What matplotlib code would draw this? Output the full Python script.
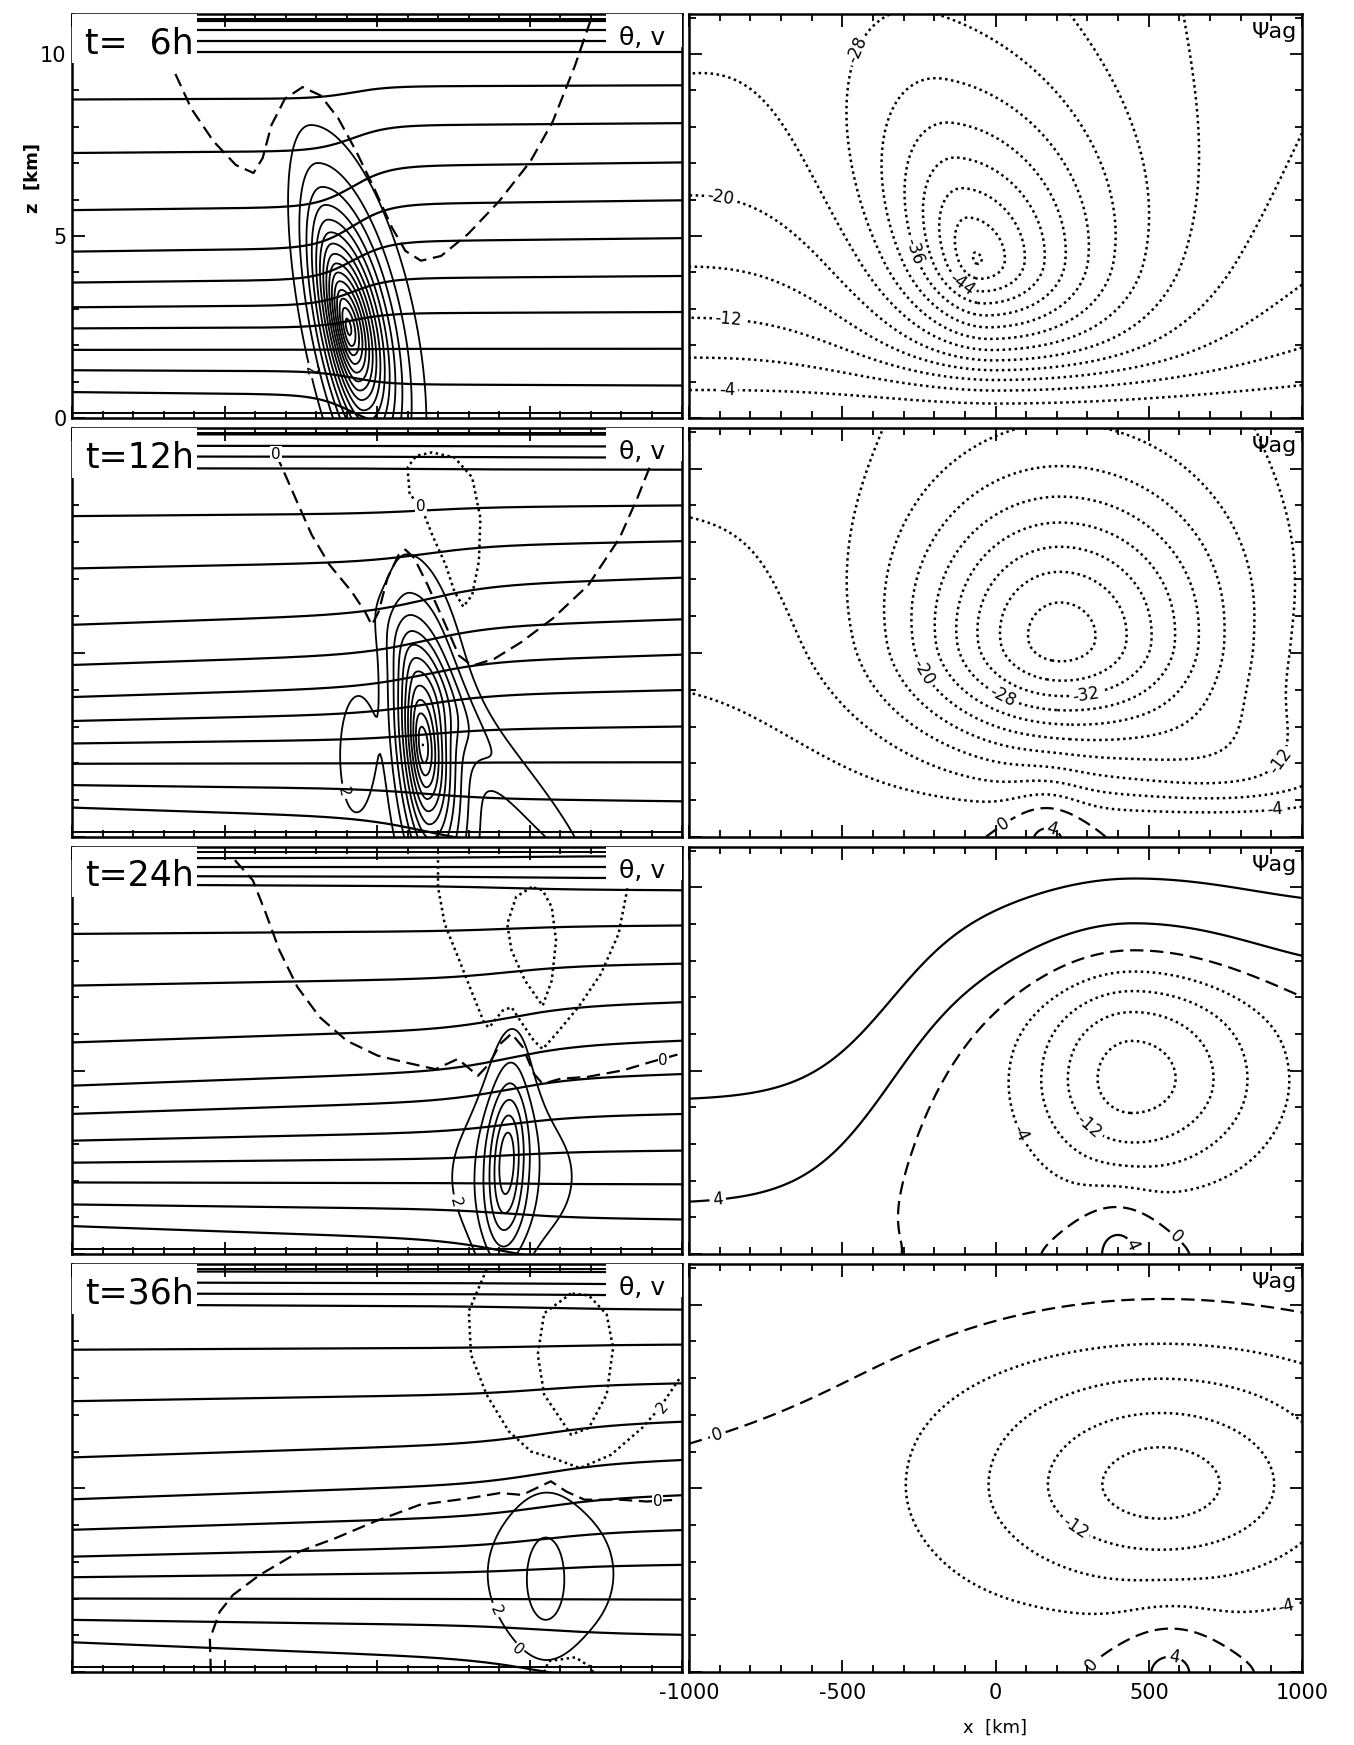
import numpy as np
import matplotlib.pyplot as plt
from matplotlib.patches import Rectangle
from matplotlib.ticker import MultipleLocator

plt.rcParams["font.family"] = ["DejaVu Sans"]
plt.rcParams["axes.unicode_minus"] = False

Z_TOP = 11.1
TIME_LABELS = ["t=  6h", "t=12h", "t=24h", "t=36h"]

# isentrope heights [km] at the western / eastern boundary, one list per time
THETA_WEST = [
    [0.71, 1.31, 1.87, 2.46, 3.04, 3.72, 4.57, 5.71, 7.28, 8.75, 10.06, 10.36, 10.65, 10.92],
    [0.80, 1.41, 1.99, 2.54, 3.15, 3.80, 4.67, 5.76, 7.29, 8.71, 10.01, 10.33, 10.62, 10.93],
    [0.76, 1.35, 1.95, 2.49, 3.09, 3.82, 4.59, 5.77, 7.32, 8.73, 10.08, 10.31, 10.55, 10.79],
    [0.81, 1.42, 2.00, 2.58, 3.14, 3.87, 4.70, 5.84, 7.37, 8.77, 10.00, 10.30, 10.60, 10.90],
]
THETA_EAST = [
    [-0.40, 0.89, 1.90, 2.91, 3.90, 4.94, 5.98, 7.02, 8.10, 9.14, 10.06, 10.36, 10.65, 10.92],
    [-0.40, 0.97, 2.03, 3.00, 3.99, 4.95, 5.91, 7.04, 8.03, 9.00, 9.97, 10.30, 10.60, 10.92],
    [-0.40, 0.94, 1.90, 2.82, 3.82, 4.91, 5.82, 6.87, 7.92, 8.96, 9.92, 10.25, 10.55, 10.85],
    [-0.40, 1.01, 1.97, 2.92, 3.87, 4.82, 5.78, 6.82, 7.86, 8.91, 9.86, 10.25, 10.55, 10.88],
]
THETA_XC = [-80, 160, 430, 540]
THETA_WIDTH = [60, 110, 110, 120]
THETA_LINEAR = [0.15, 0.45, 0.50, 0.55]

# along-front wind v: (amp, x0, z0, sx_west, sx_east, sz_below, sz_above, tilt, power)
V_BLOBS = [
    [(31, -95, 2.5, 75, 110, 2.7, 2.7, -22, 1.4)],
    [(24, 150, 2.5, 70, 95, 2.8, 2.7, -10, 1.4),
     (3.2, 430, 1.8, 100, 100, 3.6, 3.6, -95, 2.0),
     (2.7, -70, 2.2, 68, 68, 2.0, 2.0, 0, 4.0)],
    [(11, 425, 2.5, 65, 65, 2.4, 2.6, 5, 1.6),
     (3.0, 445, 2.1, 260, 260, 2.3, 2.3, 0, 3.0)],
    [(2.4, 552, 2.5, 85, 85, 1.7, 1.7, 0, 2.0),
     (2.6, 570, 2.67, 320, 320, 2.9, 2.9, 0, 3.0)],
]
V_STEP = [2, 2, 2, 2]
V_LABEL_AT = [[(-219, 1.3)], [(-80, 1.3)], [(250, 1.4)], [(420, 1.8)]]

# v = 0 (dashed) and v < 0 (dotted) isolines
DASHED_X = [
    [-661, -609, -536, -463, -405, -375, -346, -302, -244, -185, -127, -68, -10, 49, 93, 144, 210, 298, 400, 503, 576, 649, 707],
    [-331, -302, -258, -214, -156, -83, -39, -17, 5, 34, 71, 93, 122, 166, 225, 268, 312, 385, 473, 576, 693, 795, 854, 898],
    [-466, -407, -364, -320, -261, -188, -100, 2, 90, 192, 265, 331, 368, 404, 441, 478, 514, 543, 602, 690, 807, 895, 990],
    [-545, -548, -516, -472, -385, -254, -137, -6, 140, 301, 403, 476, 570, 621, 680, 796, 884, 986],
]
DASHED_Z = [
    [9.45, 8.5, 7.6, 6.95, 6.73, 7.14, 8.05, 8.77, 9.09, 8.86, 8.23, 7.32, 6.32, 5.23, 4.59, 4.32, 4.45, 5.05, 5.95, 7.05, 8.14, 9.68, 11.09],
    [10.39, 9.85, 9.02, 8.2, 7.39, 6.66, 6.11, 5.75, 6.11, 7.02, 7.66, 7.8, 7.57, 6.84, 5.75, 4.93, 4.65, 4.84, 5.29, 5.93, 6.84, 8.11, 9.21, 10.12],
    [10.74, 10.19, 9.28, 8.28, 7.28, 6.46, 5.82, 5.41, 5.23, 5.04, 5.32, 4.86, 5.19, 5.73, 6.01, 5.64, 4.92, 4.64, 4.78, 4.83, 5.01, 5.23, 5.45],
    [0.0, 0.9, 1.64, 2.1, 2.64, 3.28, 3.64, 4.1, 4.55, 4.73, 4.87, 4.82, 5.19, 4.91, 4.69, 4.69, 4.64, 4.69],
]
DOTTED_X = [
    [],
    [[100, 107, 144, 181, 225, 254, 283, 312, 334, 339, 312, 254, 181, 129, 100]],
    [[200, 200, 222, 266, 309, 353, 368, 412, 441, 470, 514, 543, 587, 660, 734, 792, 822],
     [507, 456, 427, 441, 485, 543, 573, 587, 573, 543, 507]],
    [[359, 301, 308, 359, 432, 505, 578, 665, 767, 869, 927, 993],
     [636, 548, 527, 548, 636, 694, 753, 774, 753, 694, 636],
     [548, 563, 650, 694, 709]],
]
DOTTED_Z = [
    [],
    [[10.03, 9.3, 8.98, 8.2, 7.39, 6.66, 6.25, 6.57, 7.48, 8.66, 9.76, 10.3, 10.44, 10.35, 10.03]],
    [[10.74, 10.01, 9.0, 8.09, 7.18, 6.27, 6.18, 6.64, 6.73, 6.36, 5.82, 5.59, 6.0, 6.73, 7.64, 8.73, 10.01],
     [10.01, 9.74, 9.0, 8.28, 7.46, 6.77, 7.46, 8.55, 9.46, 9.92, 10.01]],
    [[10.95, 9.82, 8.64, 7.55, 6.55, 6.0, 5.82, 5.55, 5.91, 6.64, 7.19, 8.0],
     [10.3, 9.76, 8.64, 7.55, 6.46, 6.64, 7.55, 8.82, 9.73, 10.25, 10.3],
     [0.0, 0.3, 0.4, 0.17, 0.0]],
]
LEFT_TEXT = [
    [],
    [("0", -331, 10.39, 0), ("0", 144, 8.98, 0)],
    [("0", 938, 5.27, 0)],
    [("2", 935, 7.19, 50), ("0", 920, 4.65, 0), ("0", 461, 0.6, -40)],
]

# ageostrophic streamfunction
# background: (magnitude, scale height, east-west slope)
PSI_BG = [(23.0, 5.0, 0.2), (40.0, 40.0, 0.0), (0.0, 1.0, 0.0), (0.0, 1.0, 0.0)]
# positive upper cell: (max_west, max_east, depth_west, depth_east, base_west, base_east, x_mid, width)
PSI_CELL = [None, None,
            (11.0, 11.5, 3.3, 2.2, -0.1, 6.9, -350, 140),
            (3.9, 3.9, 1.2, 1.2, 6.8, 8.6, -400, 200)]
PSI_VORTEX = [
    [(-39, -60, 4.3, 295, 480, 3.0, 4.4, -22, 1.3)],
    [(-37, 210, 5.3, 508, 560, 3.0, 4.3, 0, 1.8), (-8, 800, 1.8, 400, 400, 1.5, 2.0, 0, 2.0)],
    [(-18, 445, 4.8, 330, 420, 2.8, 3.2, 0, 2.0)],
    [(-19, 540, 5.1, 620, 620, 3.0, 3.3, 0, 1.5)],
]
PSI_GROUND = [(0.15, 1.2), (0.15, 0.9), (0.15, 1.2), (0.15, 1.2)]
PSI_BUMP = [[], [(5.0, 170, 120, 1.5)], [(5.0, 400, 120, 1.6)], [(5.0, 570, 160, 1.6)]]
PSI_LABEL_AT = [
    [(-511, 10.33), (-890, 6.41), (-265, 4.59), (-110, 3.68), (-869, 2.95), (-876, 0.76)],
    [(-247, 4.42), (14, 3.69), (295, 3.78), (915, 2.14), (915, 0.54), (14, 0.5), (190, 0.4)],
    [(-908, 1.63), (-14, 2.9), (323, 3.64), (492, 0.4), (598, 0.54)],
    [(-923, 6.88), (232, 3.6), (936, 2.3), (274, 0.49), (584, 0.5)],
]
PSI_LEVELS = np.arange(-52, 13, 4)

ROW_BOTTOM = [0.7605, 0.5203, 0.2814, 0.0418]
ROW_HEIGHT = [0.2315, 0.2344, 0.2332, 0.2338]
COL_LEFT = [0.0532, 0.5089]
COL_WIDTH = [0.4505, 0.4527]

x = np.linspace(-1000, 1000, 401)
z = np.linspace(0.0, Z_TOP, 281)
X, Z = np.meshgrid(x, z)

DASH = (0, (6, 3))
DOTS = (0, (1, 1.4))


def logistic(u):
    return 1.0 / (1.0 + np.exp(-u))


def blob(amp, x0, z0, sxw, sxe, szb, sza, tilt, power):
    dx = X - (x0 + tilt * (Z - z0))
    dz = Z - z0
    sx = np.where(dx < 0, sxw, sxe)
    sz = np.where(dz < 0, szb, sza)
    r = np.hypot(dx / sx, dz / sz)
    return amp * np.exp(-r ** power)


def psi_field(row):
    a, hscale, b = PSI_BG[row]
    field = -a * (1 - np.exp(-Z / hscale)) * (1 - b * X / 1000)
    if PSI_CELL[row] is not None:
        mw, me, dw, de, hw, he, xm, wd = PSI_CELL[row]
        s = logistic((X - xm) / wd)
        top = mw + (me - mw) * s
        depth = dw + (de - dw) * s
        base = hw + (he - hw) * s
        above = 0.5 * np.log1p(np.exp((Z - base) / 0.5))
        field = field + top * (1 - np.exp(-above / depth))
    g0, hg = PSI_GROUND[row]
    ground = 1 - (1 - g0) * np.exp(-(Z / hg) ** 2)
    for params in PSI_VORTEX[row]:
        field = field + ground * blob(*params)
    for amp, x0, sx, sz in PSI_BUMP[row]:
        field = field + amp * np.exp(-((X - x0) / sx) ** 2 - (Z / sz) ** 2)
    return field


def style_axes(ax, right_ticks):
    ax.set_xlim(-1000, 1000)
    ax.set_ylim(0, Z_TOP)
    ax.xaxis.set_major_locator(MultipleLocator(500))
    ax.xaxis.set_minor_locator(MultipleLocator(100))
    ax.yaxis.set_major_locator(MultipleLocator(5))
    ax.yaxis.set_minor_locator(MultipleLocator(1))
    ax.tick_params(which="both", direction="in", top=True, bottom=True,
                   left=True, right=right_ticks, width=1.3,
                   labelbottom=False, labelleft=False)
    ax.tick_params(which="major", length=9)
    ax.tick_params(which="minor", length=5)
    for sp in ax.spines.values():
        sp.set_linewidth(1.8)


fig = plt.figure(figsize=(13.54, 17.45), dpi=100)

for row in range(4):
    # left column: isentropes and along-front wind
    ax = fig.add_axes([COL_LEFT[0], ROW_BOTTOM[row], COL_WIDTH[0], ROW_HEIGHT[row]])
    style_axes(ax, right_ticks=False)
    frac = (THETA_LINEAR[row] * (x + 1000) / 2000
            + (1 - THETA_LINEAR[row]) * logistic((x - THETA_XC[row]) / THETA_WIDTH[row]))
    for zw, ze in zip(THETA_WEST[row], THETA_EAST[row]):
        ax.plot(x, zw + (ze - zw) * frac, color="k", lw=1.6)
    ax.axhline(0.13, color="k", lw=1.4)
    ax.axhline(10.97, color="k", lw=1.4)

    v = sum(blob(*params) for params in V_BLOBS[row])
    levels = np.arange(V_STEP[row], v.max(), V_STEP[row])
    cs = ax.contour(X, Z, v, levels=levels, colors="k", linewidths=1.3, linestyles="solid")
    ax.clabel(cs, manual=V_LABEL_AT[row], fmt="%d", fontsize=11, inline=True, inline_spacing=3)

    ax.plot(DASHED_X[row], DASHED_Z[row], color="k", lw=1.6, linestyle=DASH)
    for lx, lz in zip(DOTTED_X[row], DOTTED_Z[row]):
        ax.plot(lx, lz, color="k", lw=1.8, linestyle=DOTS)
    for txt, tx, tz, rot in LEFT_TEXT[row]:
        ax.text(tx, tz, txt, fontsize=11, ha="center", va="center", rotation=rot,
                bbox=dict(facecolor="white", edgecolor="none", pad=0.5), zorder=6)

    ax.add_patch(Rectangle((0.0, 9.75 / Z_TOP), 0.205, 1 - 9.75 / Z_TOP,
                           transform=ax.transAxes, facecolor="white", edgecolor="none", zorder=4))
    ax.add_patch(Rectangle((0.875, 10.2 / Z_TOP), 0.125, 1 - 10.2 / Z_TOP,
                           transform=ax.transAxes, facecolor="white", edgecolor="none", zorder=4))
    ax.text(0.022, 10.3 / Z_TOP, TIME_LABELS[row], transform=ax.transAxes,
            fontsize=25, ha="left", va="center", zorder=5)
    ax.text(0.935, 10.45 / Z_TOP, "θ, v", transform=ax.transAxes,
            fontsize=18, ha="center", va="center", zorder=5)

    if row == 0:
        ax.set_yticks([0, 5, 10])
        ax.tick_params(labelleft=True, labelsize=15, pad=4)

    # right column: ageostrophic streamfunction
    ax = fig.add_axes([COL_LEFT[1], ROW_BOTTOM[row], COL_WIDTH[1], ROW_HEIGHT[row]])
    style_axes(ax, right_ticks=True)
    psi = psi_field(row)
    styles = ["solid" if lv > 0 else (DASH if lv == 0 else DOTS) for lv in PSI_LEVELS]
    widths = [1.6 if lv >= 0 else 1.8 for lv in PSI_LEVELS]
    cs = ax.contour(X, Z, psi, levels=PSI_LEVELS, colors="k",
                    linewidths=widths, linestyles=styles)
    ax.clabel(cs, manual=PSI_LABEL_AT[row], fmt="%d", fontsize=12, inline=True, inline_spacing=3)
    ax.text(0.955, 10.6 / Z_TOP, "Ψag", transform=ax.transAxes,
            fontsize=16, ha="center", va="center")

    if row == 3:
        ax.tick_params(labelbottom=True, labelsize=15, pad=8)

fig.text(995 / 1354, 1 - 1728 / 1745, "x  [km]", fontsize=13, ha="center", va="center")
fig.text(33 / 1354, 1 - 178 / 1745, "z  [km]", fontsize=13, ha="center", va="center",
         rotation=90, fontweight="bold")

fig.savefig("out.png", dpi=100, facecolor="white")
